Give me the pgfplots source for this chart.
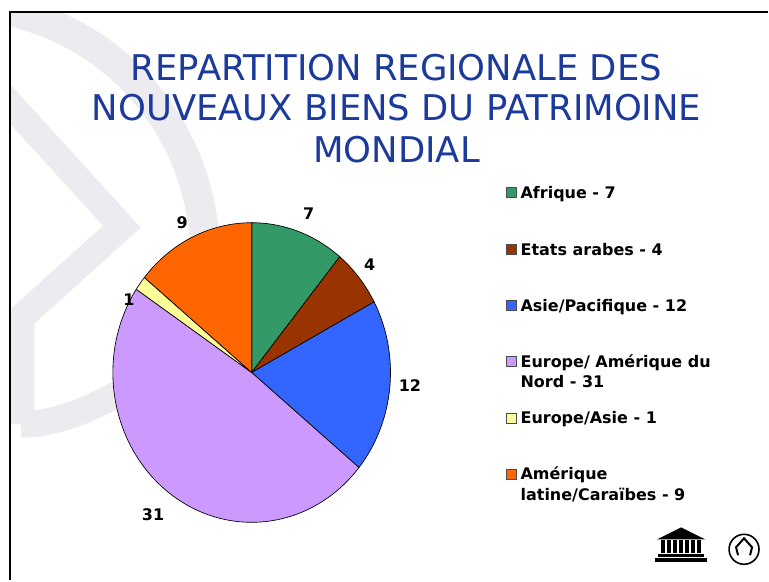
\documentclass[border=0pt]{standalone}
\usepackage{pgfplots}
\pgfplotsset{compat=1.18}
\usepackage{fontspec}
\setmainfont{DejaVu Sans}
\definecolor{titleblue}{RGB}{28,58,156}
\definecolor{cAfr}{RGB}{51,153,102}
\definecolor{cArab}{RGB}{153,51,0}
\definecolor{cAsie}{RGB}{51,102,255}
\definecolor{cEur}{RGB}{204,153,255}
\definecolor{cEurAs}{RGB}{255,255,153}
\definecolor{cAml}{RGB}{255,102,0}
\definecolor{wm}{RGB}{236,236,240}
% slice values
\def\vAfr{7}\def\vArab{4}\def\vAsie{12}\def\vEur{31}\def\vEurAs{1}\def\vAml{9}
\pgfmathsetmacro{\tot}{\vAfr+\vArab+\vAsie+\vEur+\vEurAs+\vAml}
\pgfmathsetmacro{\aA}{90}
\pgfmathsetmacro{\aB}{\aA-360*\vAfr/\tot}
\pgfmathsetmacro{\aC}{\aB-360*\vArab/\tot}
\pgfmathsetmacro{\aD}{\aC-360*\vAsie/\tot}
\pgfmathsetmacro{\aE}{\aD-360*\vEur/\tot}
\pgfmathsetmacro{\aF}{\aE-360*\vEurAs/\tot}
\pgfmathsetmacro{\aG}{\aF-360*\vAml/\tot}
\begin{document}
\begin{tikzpicture}[x=0.75pt,y=0.75pt]
\path (0,0) rectangle (769,581);
\begin{scope}[shift={(0,581)},yscale=-1]
  % watermark
  \begin{scope}
    \clip (10,12) rectangle (769,581);
    \draw[wm,line width=22.5pt] (-45,255) ++(-95:250) arc[start angle=-95,end angle=10,radius=250];
    \draw[wm,line width=20pt,line join=miter] (-30,60) -- (122,227) -- (21,318) -- (21,425);
    \draw[wm,line width=20pt] (21,425) .. controls (60,425) and (100,405) .. (135,385);
  \end{scope}
  % frame
  \draw[black,line width=1.5pt] (10,581) -- (10,12) -- (769,12);
  % title
  \tikzset{tt/.style={titleblue,font=\fontsize{26.6}{30}\selectfont,inner sep=0pt}}
  \node[tt] at (397,68) {REPARTITION REGIONALE DES};
  \node[tt] at (397,108) {NOUVEAUX BIENS DU PATRIMOINE};
  \node[tt] at (397,150) {MONDIAL};
  % legend
  \foreach \c/\y in {cAfr/193,cArab/250,cAsie/306,cEur/362,cEurAs/419,cAml/475}{
    \filldraw[fill=\c,draw=black!70,line width=0.4pt] (507,\y-5) rectangle (517,\y+5);
  }
  \tikzset{leg/.style={anchor=base west,inner sep=0pt,font=\fontsize{12}{14}\selectfont\bfseries}}
  \node[leg] at (521,198.5) {Afrique - 7};
  \node[leg] at (521,255.5) {Etats arabes - 4};
  \node[leg] at (521,311.5) {Asie/Pacifique - 12};
  \node[leg] at (521,367.5) {Europe/ Amérique du};
  \node[leg] at (521,388.5) {Nord - 31};
  \node[leg] at (521,424.5) {Europe/Asie - 1};
  \node[leg] at (521,480.5) {Amérique};
  \node[leg] at (521,501.5) {latine/Caraïbes - 9};
  % logos
  \fill[black] (656,559) rectangle (708,563);
  \fill[black] (659,555) rectangle (705,558);
  \foreach \xx in {662,668,674,680,686,692,698}{\fill[black] (\xx,541) rectangle (\xx+3.5,554);}
  \fill[black] (658,540) -- (682,528) -- (706,540) -- cycle;
  \draw[black,line width=1.2pt] (745,550) circle[radius=15];
  \draw[black,line width=1.5pt] (739,556) -- (737,548) -- (745,539) -- (753,548) -- (751,556);
\end{scope}
\begin{axis}[
  at={(189pt,156pt)}, anchor=center,
  scale only axis, width=208.5pt, height=225pt,
  xmin=-1, xmax=1, ymin=-1, ymax=1,
  hide axis, clip=false,
]
\addplot[fill=cAfr,draw=black,line width=0.5pt,domain=\aB:\aA,samples=40,variable=\t] ({cos(\t)},{sin(\t)}) -- (axis cs:0,0) -- cycle;
\addplot[fill=cArab,draw=black,line width=0.5pt,domain=\aC:\aB,samples=30,variable=\t] ({cos(\t)},{sin(\t)}) -- (axis cs:0,0) -- cycle;
\addplot[fill=cAsie,draw=black,line width=0.5pt,domain=\aD:\aC,samples=50,variable=\t] ({cos(\t)},{sin(\t)}) -- (axis cs:0,0) -- cycle;
\addplot[fill=cEur,draw=black,line width=0.5pt,domain=\aE:\aD,samples=120,variable=\t] ({cos(\t)},{sin(\t)}) -- (axis cs:0,0) -- cycle;
\addplot[fill=cEurAs,draw=black,line width=0.5pt,domain=\aF:\aE,samples=8,variable=\t] ({cos(\t)},{sin(\t)}) -- (axis cs:0,0) -- cycle;
\addplot[fill=cAml,draw=black,line width=0.5pt,domain=\aG:\aF,samples=40,variable=\t] ({cos(\t)},{sin(\t)}) -- (axis cs:0,0) -- cycle;
\tikzset{vl/.style={font=\fontsize{12}{14}\selectfont\bfseries,inner sep=0pt}}
\node[vl] at (axis cs:0.41,1.06) {\vAfr};
\node[vl] at (axis cs:0.85,0.72) {\vArab};
\node[vl] at (axis cs:1.14,-0.09) {\vAsie};
\node[vl] at (axis cs:-0.71,-0.95) {\vEur};
\node[vl] at (axis cs:-0.885,0.487) {\vEurAs};
\node[vl] at (axis cs:-0.50,1.0) {\vAml};
\end{axis}
\end{tikzpicture}
\end{document}
